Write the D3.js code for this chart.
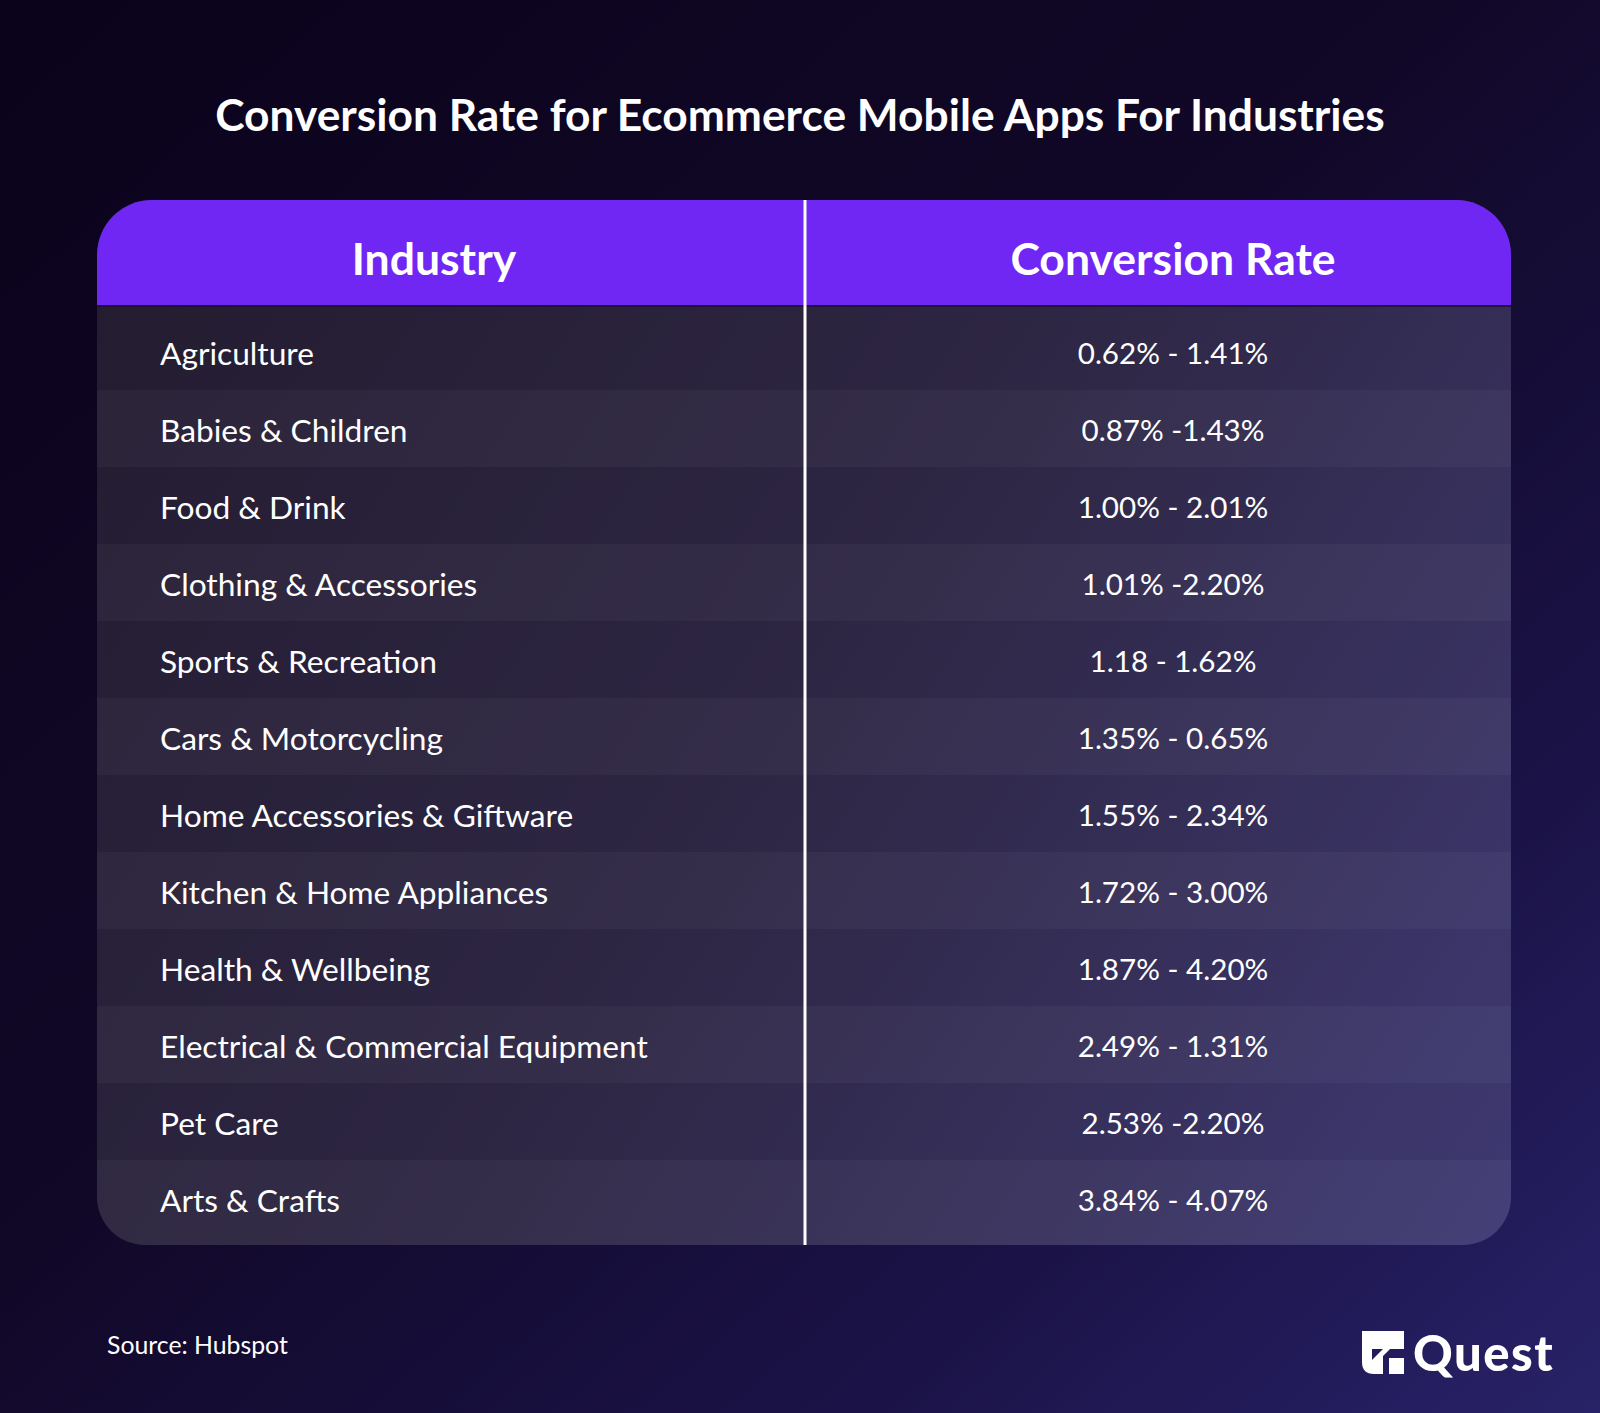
<!DOCTYPE html>
<html>
<head>
<meta charset="utf-8">
<script src="https://cdn.jsdelivr.net/npm/d3@7"></script>
<style>
  html, body { margin: 0; padding: 0; background: #0d0420; }
  svg { display: block; }
</style>
</head>
<body>
<script>
// ---- data ----
const title = "Conversion Rate for Ecommerce Mobile Apps For Industries";
const columns = ["Industry", "Conversion Rate"];
const industries = [
  "Agriculture",
  "Babies & Children",
  "Food & Drink",
  "Clothing & Accessories",
  "Sports & Recreation",
  "Cars & Motorcycling",
  "Home Accessories & Giftware",
  "Kitchen & Home Appliances",
  "Health & Wellbeing",
  "Electrical & Commercial Equipment",
  "Pet Care",
  "Arts & Crafts"
];
const rates = [
  "0.62% - 1.41%",
  "0.87% -1.43%",
  "1.00% - 2.01%",
  "1.01% -2.20%",
  "1.18 - 1.62%",
  "1.35% - 0.65%",
  "1.55% - 2.34%",
  "1.72% - 3.00%",
  "1.87% - 4.20%",
  "2.49% - 1.31%",
  "2.53% -2.20%",
  "3.84% - 4.07%"
];
const source = "Source: Hubspot";
const brand = "Quest";

// ---- layout ----
const W = 1600, H = 1413;
const FONT = "Lato, 'Noto Sans', sans-serif";
const tbl = { x0: 97, x1: 1511, y0: 200, yh: 305, y1: 1245, div: 805, rTop: 55, rBot: 48 };

const svg = d3.select("body").append("svg").attr("width", W).attr("height", H);
const defs = svg.append("defs");

const bg = defs.append("linearGradient").attr("id", "bg")
  .attr("x1", 0).attr("y1", 0).attr("x2", 1).attr("y2", 1);
bg.append("stop").attr("offset", 0).attr("stop-color", "#0b031b");
bg.append("stop").attr("offset", 0.45).attr("stop-color", "#110828");
bg.append("stop").attr("offset", 0.75).attr("stop-color", "#1a1245");
bg.append("stop").attr("offset", 1).attr("stop-color", "#282268");

const bodyG = defs.append("linearGradient").attr("id", "tb")
  .attr("gradientUnits", "userSpaceOnUse")
  .attr("x1", tbl.x0).attr("y1", tbl.yh).attr("x2", tbl.x1).attr("y2", tbl.y1);
bodyG.append("stop").attr("offset", 0).attr("stop-color", "#241c30");
bodyG.append("stop").attr("offset", 0.5).attr("stop-color", "#2e2745");
bodyG.append("stop").attr("offset", 1).attr("stop-color", "#3f3973");

svg.append("rect").attr("width", W).attr("height", H).attr("fill", "url(#bg)");

// title
svg.append("text")
  .attr("x", 800).attr("y", 113)
  .attr("text-anchor", "middle").attr("dominant-baseline", "central")
  .attr("font-family", FONT).attr("font-weight", 700).attr("font-size", 44.3)
  .attr("fill", "#ffffff").text(title);

// table shape
const { x0, x1, y0, yh, y1, rTop, rBot } = tbl;
const tablePath = `M${x0},${y0 + rTop} A${rTop},${rTop} 0 0 1 ${x0 + rTop},${y0}
  H${x1 - rTop} A${rTop},${rTop} 0 0 1 ${x1},${y0 + rTop}
  V${y1 - rBot} A${rBot},${rBot} 0 0 1 ${x1 - rBot},${y1}
  H${x0 + rBot} A${rBot},${rBot} 0 0 1 ${x0},${y1 - rBot} Z`;
defs.append("clipPath").attr("id", "clip").append("path").attr("d", tablePath);

const tg = svg.append("g").attr("clip-path", "url(#clip)");
tg.append("rect").attr("x", x0).attr("y", y0).attr("width", x1 - x0).attr("height", y1 - y0)
  .attr("fill", "url(#tb)");

// row scale
const yBand = d3.scaleBand().domain(industries).range([314, 1238]).paddingInner(0).paddingOuter(0);

tg.selectAll("rect.stripe").data(industries.filter((d, i) => i % 2 === 1))
  .join("rect").attr("class", "stripe")
  .attr("x", x0).attr("width", x1 - x0)
  .attr("y", d => yBand(d) - 1)
  .attr("height", d => d === industries[industries.length - 1] ? y1 - yBand(d) + 1 : yBand.step())
  .attr("fill", "#ffffff").attr("fill-opacity", 0.035);

// header
tg.append("rect").attr("x", x0).attr("y", y0).attr("width", x1 - x0).attr("height", yh - y0)
  .attr("fill", "#7027f3");
tg.append("rect").attr("x", x0).attr("y", yh).attr("width", x1 - x0).attr("height", 2)
  .attr("fill", "#1c1230").attr("opacity", 0.8);

// column x
const xCol = d3.scaleOrdinal().domain(columns).range([434, 1173]);
svg.selectAll("text.head").data(columns).join("text").attr("class", "head")
  .attr("x", d => xCol(d)).attr("y", 257)
  .attr("text-anchor", "middle").attr("dominant-baseline", "central")
  .attr("font-family", FONT).attr("font-weight", 700).attr("font-size", 44.5)
  .attr("fill", "#ffffff").text(d => d);

// divider
svg.append("line").attr("x1", tbl.div).attr("x2", tbl.div).attr("y1", y0).attr("y2", y1)
  .attr("stroke", "#ffffff").attr("stroke-width", 3);

// rows
svg.selectAll("text.ind").data(industries).join("text").attr("class", "ind")
  .attr("x", 160).attr("y", d => yBand(d) + yBand.bandwidth() / 2)
  .attr("dominant-baseline", "central")
  .attr("font-family", FONT).attr("font-weight", 400).attr("font-size", 31.7)
  .attr("fill", "#ffffff").text(d => d);

svg.selectAll("text.rate").data(rates).join("text").attr("class", "rate")
  .attr("x", xCol(columns[1])).attr("y", (d, i) => yBand(industries[i]) + yBand.bandwidth() / 2)
  .attr("text-anchor", "middle").attr("dominant-baseline", "central")
  .attr("font-family", FONT).attr("font-weight", 400).attr("font-size", 29.6)
  .attr("fill", "#ffffff").text(d => d);

// source
svg.append("text").attr("x", 107).attr("y", 1344)
  .attr("dominant-baseline", "central")
  .attr("font-family", FONT).attr("font-weight", 400).attr("font-size", 24.8)
  .attr("fill", "#ffffff").text(source);

// logo
const lg = svg.append("g").attr("transform", "translate(1362,1331)");
lg.append("path")
  .attr("d", "M0,0 H42 V18 H28 L21,25 V43 H12 Q0,43 0,31 Z")
  .attr("fill", "#ffffff");
lg.append("path").attr("d", "M10,18 H21 L10,29 Z").attr("fill", "#221c5a");
lg.append("rect").attr("x", 27).attr("y", 27).attr("width", 15).attr("height", 16).attr("fill", "#ffffff");
svg.append("text").attr("x", 1413).attr("y", 1352)
  .attr("dominant-baseline", "central")
  .attr("font-family", FONT).attr("font-weight", 900).attr("font-size", 49)
  .attr("letter-spacing", 1.5)
  .attr("fill", "#ffffff").text(brand);
</script>
</body>
</html>
